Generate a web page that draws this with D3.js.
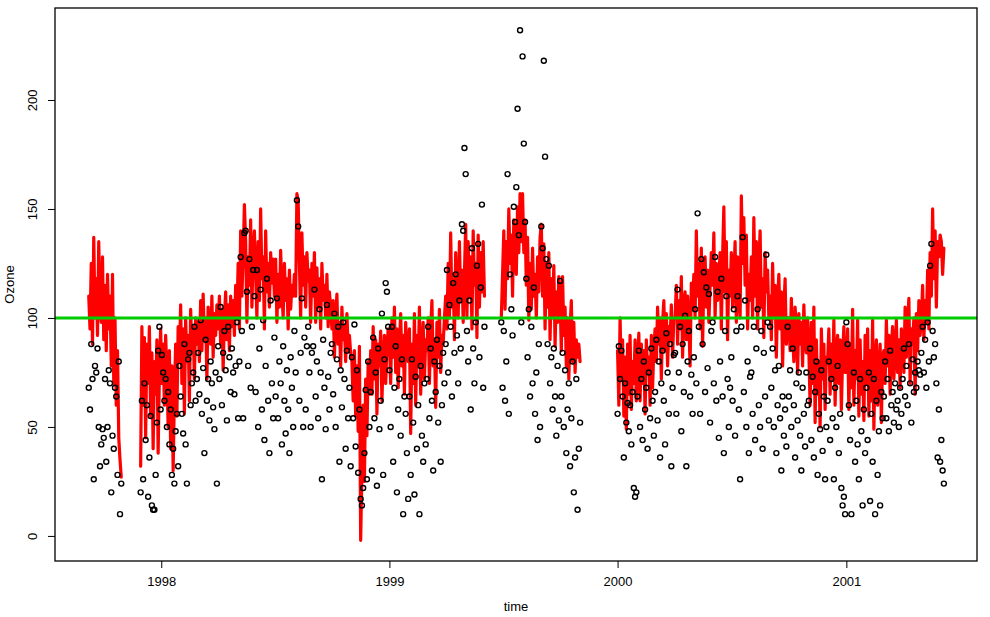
<!DOCTYPE html>
<html>
<head>
<meta charset="utf-8">
<script src="https://cdn.jsdelivr.net/npm/d3@7"></script>
<style>
  body { margin: 0; background: #fff; }
  svg text { font-family: "Liberation Sans", Arial, sans-serif; font-size: 13px; fill: #000; }
</style>
</head>
<body>
<div id="chart"></div>
<script>
// every segment is sampled every 2 days from its start date
const segStarts = ['1997-09-07', '1997-11-29', '1999-06-29', '2000-01-01'];

const fitA = [110,95,125,88,137,100,118,92,135,105,98,128,
  90,115,85,120,95,110,78,120,70,100,60,85,45,35,27];
const obsA = [68,58,88,72,26,78,75,86,50,32,42,49,
  45,72,34,50,76,70,20,46,40,68,64,28,80,10,24];

const fitB = [32,96,60,91,45,88,70,96,55,84,40,80,65,90,38,75,95,
  70,88,60,92,75,50,85,40,78,30,65,88,55,96,80,
  106,70,95,56,100,80,92,62,104,85,96,72,100,88,
  98,80,108,85,111,90,100,72,105,95,88,110,82,102,92,106,
  95,110,88,104,76,100,112,90,106,85,110,96,108,92,115,
  100,125,95,140,110,128,152,135,98,128,115,145,105,130,140,
  120,100,135,108,150,118,128,95,140,112,125,105,130,116,127,
  110,127,98,120,105,131,112,100,125,108,118,95,122,104,115,110,
  120,110,157,154,125,100,139,115,128,105,130,117,122,98,125,
  110,130,98,123,105,118,95,125,108,115,100,120,96,112,105,
  95,108,82,100,111,88,98,78,105,90,96,80,102,85,92,84,
  80,62,85,55,78,48,87,-2,30,60,25,72,46,80,65,
  85,65,96,72,90,56,88,78,94,62,82,92,70,86,95,
  90,70,100,82,105,75,95,68,88,102,78,92,65,98,85,80,
  95,47,88,70,102,60,92,78,105,65,85,98,72,90,
  85,100,70,95,108,78,90,59,98,82,104,75,92,88,100,
  110,95,125,100,139,105,118,90,130,112,100,135,108,122,98,
  120,143,100,135,110,128,95,140,115,125,91,138,105,130,112,135,
  110];
const obsB = [20,62,26,70,44,60,18,36,55,14,12,12,28,52,85,96,58,
  83,75,62,72,50,66,42,58,28,40,24,48,56,32,78,
  64,56,47,88,42,24,81,84,60,70,75,96,62,72,
  84,65,99,56,77,38,90,62,72,53,80,70,59,49,75,24,
  87,72,105,60,84,94,76,53,96,82,66,86,75,65,78,
  98,54,80,128,94,54,139,140,112,78,127,68,96,122,110,
  66,122,50,86,113,58,99,44,78,118,62,38,108,70,54,
  91,64,109,54,80,70,42,87,62,47,76,58,38,82,68,50,
  94,75,154,142,62,84,109,50,91,58,87,96,75,50,84,
  87,113,64,80,54,104,75,26,90,68,49,106,73,58,84,
  88,65,102,50,81,96,34,76,59,98,72,40,85,54,68,32,
  82,54,97,41,76,29,58,17,14,22,38,67,26,80,50,
  66,30,91,54,75,23,86,49,62,102,28,81,116,112,96,
  76,50,96,34,68,87,20,58,72,46,81,10,64,56,38,17,
  64,28,81,52,19,73,40,60,10,78,46,34,70,42,
  72,96,54,86,62,30,80,66,90,52,78,34,60,84,70,
  88,122,75,106,96,64,116,84,120,92,70,108,86,143,140,
  178,166,94,80,108,58,132,86,70,98,124,134,82,114,152,68,
  96];

const fitC = [100,
  120,140,104,135,118,150,125,138,110,145,128,120,151,130,157,135,
  157,130,145,115,137,99,125,104,132,110,120,100,128,112,137,
  143,110,134,95,125,105,130,90,118,100,124,87,112,98,119,
  110,85,119,92,105,78,100,72,95,108,80,98,75,90,82,88,
  80];
const obsC = [98,
  68,94,62,80,166,56,120,104,92,151,144,160,196,138,232,98,
  220,180,144,118,82,104,64,96,70,114,56,75,44,88,50,
  142,132,218,174,127,88,124,70,82,58,86,64,46,78,53,
  117,64,84,50,76,38,58,70,32,54,80,20,36,72,12,40,
  52];

const fitD = [85,60,100,72,90,55,82,49,88,65,92,58,80,70,90,62,
  80,93,62,88,70,85,56,90,75,82,60,92,68,86,
  95,80,105,88,100,72,98,108,85,102,78,96,90,106,82,100,
  100,115,88,108,95,119,82,105,112,90,110,98,78,116,104,
  120,100,140,110,125,95,132,87,118,128,105,122,98,115,130,
  115,139,100,125,108,118,130,95,128,151,112,135,90,122,110,
  130,105,118,135,98,128,110,100,156,125,146,115,138,95,120,108,
  128,100,146,110,135,95,125,140,105,118,91,130,112,122,100,
  110,90,125,100,115,82,108,120,95,112,78,104,118,88,100,
  100,85,109,92,80,105,95,75,102,88,98,78,106,90,84,100,
  85,60,98,70,105,52,90,65,80,50,95,72,88,58,82,
  80,95,65,88,72,99,60,85,92,70,90,58,82,96,75,
  75,95,58,88,68,104,60,85,72,99,55,90,65,80,53,92,
  70,95,55,85,62,99,49,80,90,60,75,88,52,82,
  85,70,99,78,92,65,88,96,72,84,99,75,90,68,95,
  90,75,105,82,98,109,70,95,88,100,65,102,85,108,92,
  100,115,90,108,98,122,95,130,110,150,118,140,105,135,128,138,
  135,120,132];
const obsD = [56,87,72,85,64,36,70,52,61,48,60,42,66,22,18,20,
  64,85,50,72,44,80,58,68,40,75,54,86,62,46,
  66,90,53,80,36,70,85,62,42,93,75,56,88,32,68,83,
  84,56,113,75,96,48,88,66,101,32,80,94,64,74,56,
  82,104,70,148,96,56,127,88,121,66,114,77,111,52,94,
  98,70,128,62,112,45,80,118,64,38,94,110,72,50,68,
  82,62,104,46,94,110,58,26,96,137,66,108,50,80,38,73,
  75,56,96,44,86,104,60,50,94,40,84,64,129,98,53,
  96,68,86,50,76,38,60,78,54,30,64,46,58,41,96,
  64,76,50,86,60,36,70,53,75,46,30,68,56,41,75,60,
  62,86,44,73,36,66,80,28,56,49,76,39,64,26,50,
  62,80,44,72,54,26,68,50,78,38,56,22,14,18,10,
  98,88,60,44,10,54,75,34,62,42,26,72,48,14,58,38,
  68,44,75,16,56,34,72,10,62,28,48,14,66,54,
  64,80,54,72,48,85,60,66,52,70,58,62,50,68,56,
  72,86,64,78,60,88,70,52,81,66,75,68,80,76,74,
  84,96,75,90,68,98,80,124,134,94,82,88,70,36,58,34,
  44,30,24];

const yearTicks = [1998, 1999, 2000, 2001];
const yTicks = [0, 50, 100, 150, 200];
const threshold = 100;

const width = 990, height = 617;
const box = { left: 55, right: 977, top: 8, bottom: 561 };

const svg = d3.select('#chart').append('svg')
  .attr('width', width).attr('height', height);

const x = d3.scaleUtc()
  .domain([Date.UTC(1997, 6, 15), Date.UTC(2001, 6, 29)])
  .range([box.left, box.right]);
const y = d3.scaleLinear().domain([-11.5, 242.2]).range([box.bottom, box.top]);

const fits = [fitA, fitB, fitC, fitD];
const obs = [obsA, obsB, obsC, obsD];
const day = 86400000;

const toSeries = (vals, start) => {
  const t0 = Date.parse(start + 'T00:00:00Z');
  return vals.map((v, i) => ({ t: new Date(t0 + i * 2 * day), v }));
};

const plot = svg.append('g');

// fitted line, one path per segment
const line = d3.line().x(d => x(d.t)).y(d => y(d.v));
fits.forEach((f, k) => {
  plot.append('path')
    .datum(toSeries(f, segStarts[k]))
    .attr('d', line)
    .attr('fill', 'none')
    .attr('stroke', '#ff0000')
    .attr('stroke-width', 3.2)
    .attr('stroke-linejoin', 'round')
    .attr('stroke-linecap', 'round');
});

// observed values
const allObs = obs.flatMap((o, k) => toSeries(o, segStarts[k]));
plot.selectAll('circle.obs')
  .data(allObs)
  .enter()
  .append('circle')
  .attr('class', 'obs')
  .attr('cx', d => x(d.t))
  .attr('cy', d => y(d.v))
  .attr('r', 2.5)
  .attr('fill', 'none')
  .attr('stroke', '#000')
  .attr('stroke-width', 1.4);

// threshold
plot.append('line')
  .attr('x1', box.left).attr('x2', box.right)
  .attr('y1', y(threshold)).attr('y2', y(threshold))
  .attr('stroke', '#00cd00')
  .attr('stroke-width', 3);

// frame
svg.append('rect')
  .attr('x', box.left).attr('y', box.top)
  .attr('width', box.right - box.left)
  .attr('height', box.bottom - box.top)
  .attr('fill', 'none')
  .attr('stroke', '#000')
  .attr('stroke-width', 1.3);

// x axis
const xAxis = d3.axisBottom(x)
  .tickValues(yearTicks.map(yr => new Date(Date.UTC(yr, 0, 1))))
  .tickFormat(d3.utcFormat('%Y'))
  .tickSize(7)
  .tickPadding(9);
const gx = svg.append('g')
  .attr('transform', 'translate(0,' + box.bottom + ')')
  .call(xAxis);
gx.select('.domain').remove();
gx.selectAll('line').attr('stroke', '#000');
gx.selectAll('text').style('font-size', '13px').style('font-family', '"Liberation Sans", Arial, sans-serif');

// y axis
const yAxis = d3.axisLeft(y).tickValues(yTicks).tickSize(7).tickPadding(5);
const gy = svg.append('g')
  .attr('transform', 'translate(' + box.left + ',0)')
  .call(yAxis);
gy.select('.domain').remove();
gy.selectAll('line').attr('stroke', '#000');
gy.selectAll('text')
  .style('font-size', '13px')
  .style('font-family', '"Liberation Sans", Arial, sans-serif')
  .attr('text-anchor', 'middle')
  .attr('x', 0).attr('dy', null)
  .attr('transform', 'translate(-18,0) rotate(-90)')
  .attr('y', 0)
  .attr('dominant-baseline', 'auto');

svg.append('text')
  .attr('x', (box.left + box.right) / 2)
  .attr('y', 611)
  .attr('text-anchor', 'middle')
  .text('time');

svg.append('text')
  .attr('transform', 'translate(14,' + ((box.top + box.bottom) / 2) + ') rotate(-90)')
  .attr('text-anchor', 'middle')
  .text('Ozone');
</script>
</body>
</html>
